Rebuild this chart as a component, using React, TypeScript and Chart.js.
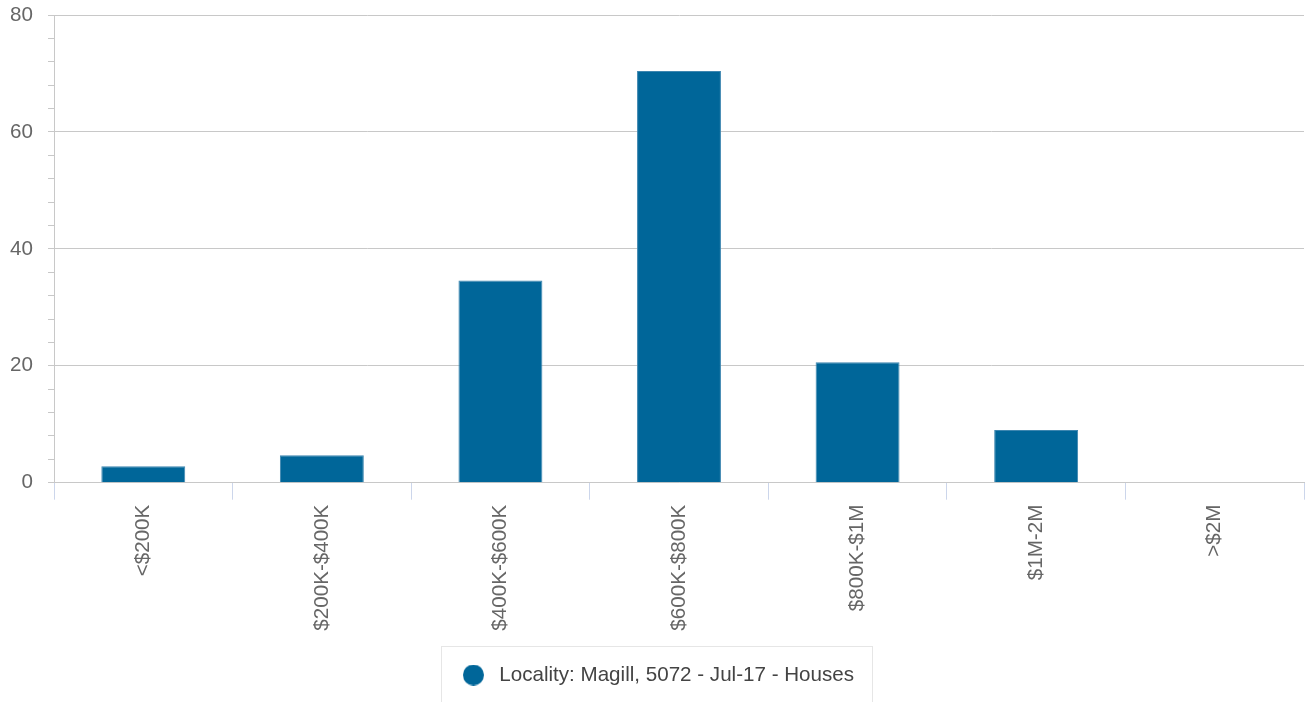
import React, { useEffect, useRef } from 'react';
import { Chart, registerables } from 'chart.js';

Chart.register(...registerables);

const categories: string[] = ['<$200K', '$200K-$400K', '$400K-$600K', '$600K-$800K', '$800K-$1M', '$1M-2M', '>$2M'];
const values: number[] = [2.8, 4.7, 34.6, 70.4, 20.6, 9.0, 0];
const seriesLabel = 'Locality: Magill, 5072 - Jul-17 - Houses';
const yMin = 0;
const yMax = 80;
const yMinorStep = 4;
const yMajorStep = 20;

const BAR_COLOR = '#006699';
const FONT = "'Liberation Sans', Arial, Helvetica, sans-serif";
const FS = 20.6;

function makeCircle(color: string, d: number): HTMLCanvasElement {
  const c = document.createElement('canvas');
  c.width = d;
  c.height = d;
  const g = c.getContext('2d')!;
  g.fillStyle = color;
  g.beginPath();
  g.arc(d / 2, d / 2, d / 2, 0, Math.PI * 2);
  g.fill();
  return c;
}

const legendBoxPlugin = {
  id: 'legendBox',
  afterLayout(chart: any) {
    const lg = chart.legend;
    if (lg) {
      lg.left += 4;
      lg.right += 4;
    }
  },
  afterDraw(chart: any) {
    const lg = chart.legend;
    if (!lg || !lg.legendHitBoxes || !lg.legendHitBoxes.length) return;
    const hb = lg.legendHitBoxes[0];
    const ctx = chart.ctx;
    ctx.save();
    ctx.strokeStyle = '#e6e6e6';
    ctx.lineWidth = 1;
    const left = Math.round(hb.left - 17) + 0.5;
    const top = Math.round(lg.top - 9) + 0.5;
    ctx.strokeRect(left, top, Math.round(hb.width + 35), 80);
    ctx.restore();
  },
};

export default function App() {
  const ref = useRef<HTMLCanvasElement | null>(null);

  useEffect(() => {
    if (!ref.current) return;
    const circle = makeCircle(BAR_COLOR, 21);
    const chart = new Chart(ref.current, {
      type: 'bar',
      data: {
        labels: categories,
        datasets: [
          {
            label: seriesLabel,
            data: values,
            backgroundColor: BAR_COLOR,
            borderColor: '#3d86b0',
            borderWidth: 1,
            barPercentage: 0.47,
            categoryPercentage: 1,
          },
        ],
      },
      options: {
        animation: false,
        responsive: true,
        maintainAspectRatio: false,
        layout: { padding: { top: 15, right: 1, left: 0, bottom: 6.7 } },
        plugins: {
          tooltip: { enabled: false },
          legend: {
            position: 'bottom',
            labels: {
              usePointStyle: true,
              pointStyle: circle as any,
              pointStyleWidth: 31,
              padding: 10,
              color: '#444444',
              font: { family: FONT, size: FS },
            },
          },
        },
        scales: {
          x: {
            offset: true,
            grid: {
              offset: true,
              drawOnChartArea: false,
              color: '#ccd6eb',
              tickColor: '#ccd6eb',
              tickLength: 17,
            },
            border: { color: '#c8c8c8', width: 1 },
            ticks: {
              autoSkip: false,
              minRotation: 90,
              maxRotation: 90,
              padding: 5,
              color: '#666666',
              font: { family: FONT, size: FS },
            },
            afterFit(scale: any) {
              scale.height = 172;
              scale.paddingLeft = 0;
              scale.paddingRight = 0;
            },
          },
          y: {
            min: yMin,
            max: yMax,
            grid: {
              color: (ctx: any) => (ctx.tick && ctx.tick.value % yMajorStep === 0 ? '#c8c8c8' : 'rgba(0,0,0,0)'),
              tickColor: '#c8c8c8',
              tickLength: 6,
            },
            border: { color: '#c8c8c8', width: 1 },
            ticks: {
              stepSize: yMinorStep,
              autoSkip: false,
              padding: 15,
              color: '#666666',
              font: { family: FONT, size: FS },
              callback: (v: any) => (Number(v) % yMajorStep === 0 ? String(v) : ''),
            },
            afterFit(scale: any) {
              scale.width = 54;
              scale.paddingTop = 0;
              scale.paddingBottom = 0;
            },
          },
        },
      },
      plugins: [legendBoxPlugin],
    });
    return () => chart.destroy();
  }, []);

  return (
    <div style={{ position: 'fixed', left: 0, top: 0, width: 1305, height: 702, background: '#fff' }}>
      <canvas ref={ref} />
    </div>
  );
}
